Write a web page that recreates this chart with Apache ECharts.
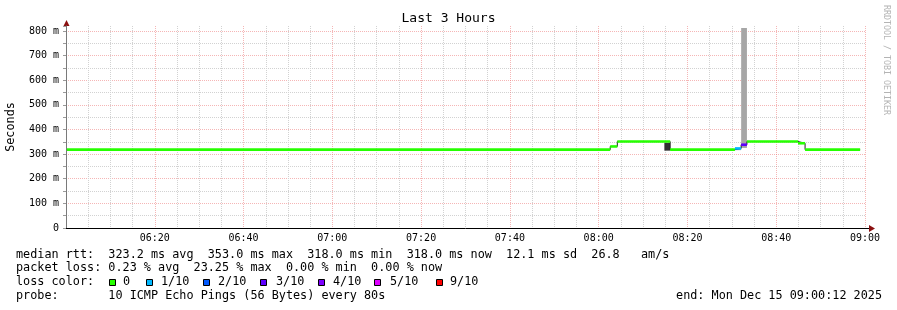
<!DOCTYPE html>
<html><head><meta charset="utf-8">
<script src="https://cdn.jsdelivr.net/npm/echarts@6/dist/echarts.min.js"></script>
<style>html,body{margin:0;padding:0;background:#fff}#c{width:897px;height:310px}</style>
</head><body><div id="c"></div>
<script>
// ---- data (minutes since 06:00) ----
const chartTitle = 'Last 3 Hours';
const yAxisName = 'Seconds';
const watermark = 'RRDTOOL / TOBI OETIKER';
const xTickLabels = ['06:20','06:40','07:00','07:20','07:40','08:00','08:20','08:40','09:00'];
const yTickLabels = ['0','100 m','200 m','300 m','400 m','500 m','600 m','700 m','800 m'];
// median rtt step segments: boundaries, value (ms), lost pings (of 10)
const segBounds = [0.2, 122.6, 124.2, 136.1, 150.7, 152.1, 153.4, 164.9, 166.5, 178.9];
const segMedian = [318, 331, 351, 318, 323, 338, 351, 344, 318];
const segLoss   = [0, 0, 0, 0, 1, 3, 0, 0, 0];
// smoke (ping spread) blocks
const smokeStart = [134.8, 150.7, 152.1];
const smokeEnd   = [136.1, 152.1, 153.4];
const smokeLow   = [314, 316, 325];
const smokeHigh  = [346, 322, 812];
const smokeShade = ['#303030', '#a8a8a8', '#a6a6a6'];
// legend
const lossColors = ['#26ff00','#00b8ff','#0059ff','#5e00ff','#7e00ff','#dd00ff','#ff0000'];
const lossLabels = ['0','1/10','2/10','3/10','4/10','5/10','9/10'];
const legendLine1 = 'median rtt:  323.2 ms avg  353.0 ms max  318.0 ms min  318.0 ms now  12.1 ms sd  26.8   am/s';
const legendLine2 = 'packet loss: 0.23 % avg  23.25 % max  0.00 % min  0.00 % now';
const legendLine3 = 'loss color:';
const legendLine4 = 'probe:       10 ICMP Echo Pings (56 Bytes) every 80s';
const endText = 'end: Mon Dec 15 09:00:12 2025';

// ---- build ----
const MONO = '"DejaVu Sans Mono", monospace';
const lossIndex = l => (l <= 5 ? l : 6);

const bandData = segMedian.map((m, i) => [segBounds[i], segBounds[i + 1], m, m, segLoss[i]]);
const medianLine = segMedian.map((m, i) => [segBounds[i], m]);
medianLine.push([segBounds[segBounds.length - 1], segMedian[segMedian.length - 1]]);
const smokeData = smokeStart.map((s, i) => [s, smokeEnd[i], smokeLow[i], smokeHigh[i], i]);

const chart = echarts.init(document.getElementById('c'), null, {renderer: 'canvas'});

const lineY = [254.5, 268.3, 282.3, 296];
const sqX = [109, 146, 203, 260, 318, 374, 436];
const lblX = [123, 161, 218, 276, 333, 390, 450];
const graphics = [];
const addText = (x, y, t, align) => graphics.push({type: 'text', x: x, y: y,
  style: {text: t, fill: '#000', font: '11.8px ' + MONO, textAlign: align || 'left', textVerticalAlign: 'middle'}, silent: true});
addText(16, lineY[0], legendLine1);
addText(16, lineY[1], legendLine2);
addText(16, lineY[2], legendLine3);
addText(16, lineY[3], legendLine4);
addText(882, lineY[3], endText, 'right');
lossColors.forEach((c, i) => {
  graphics.push({type: 'rect', shape: {x: sqX[i] + 0.5, y: 279.5, width: 6, height: 6},
    style: {fill: c, stroke: '#000', lineWidth: 1}, silent: true});
  addText(lblX[i], lineY[2], lossLabels[i]);
});
graphics.push({type: 'text', x: 886, y: 60, rotation: -Math.PI / 2,
  style: {text: watermark, fill: '#b4b4b4', font: '8.3px ' + MONO, textAlign: 'center', textVerticalAlign: 'middle'}, silent: true});
// axis arrows
graphics.push({type: 'line', shape: {x1: 865, y1: 228.5, x2: 870, y2: 228.5}, style: {stroke: '#000', lineWidth: 1}, silent: true});
graphics.push({type: 'polygon', shape: {points: [[869, 225], [875, 228.5], [869, 232]]}, style: {fill: '#8b1010'}, silent: true});
graphics.push({type: 'polygon', shape: {points: [[63.5, 26], [66.5, 20], [69.5, 26]]}, style: {fill: '#8b1010'}, silent: true});

const MAJOR = 'rgba(235,110,110,0.5)';
const MINOR = '#d2d2d2';
const option = {
  animation: false,
  backgroundColor: '#fff',
  title: {text: chartTitle, left: 'center', top: 12, padding: 0,
    textStyle: {fontFamily: MONO, fontSize: 13, fontWeight: 'normal', color: '#000'}},
  grid: {left: 66, right: 32, top: 26, bottom: 82, containLabel: false, outerBoundsMode: 'none'},
  xAxis: {
    type: 'value', min: 0, max: 180, interval: 20,
    axisLine: {show: true, lineStyle: {color: '#000', width: 1}},
    axisTick: {show: false},
    axisLabel: {show: true, showMaxLabel: true, showMinLabel: false, margin: 5,
      fontFamily: MONO, fontSize: 10, color: '#000',
      formatter: v => (v > 0 ? xTickLabels[Math.round(v / 20) - 1] || '' : '')},
    splitLine: {show: true, showMinLine: false, showMaxLine: true,
      lineStyle: {color: MAJOR, width: 1, type: [1, 1]}},
    minorTick: {show: false, splitNumber: 4},
    minorSplitLine: {show: true, lineStyle: {color: MINOR, width: 1, type: [1, 1]}}
  },
  yAxis: {
    type: 'value', min: 0, max: 820, interval: 50,
    name: yAxisName, nameLocation: 'middle', nameGap: 49, nameRotate: 90,
    nameTextStyle: {fontFamily: MONO, fontSize: 11.8, color: '#000'},
    axisLine: {show: true, lineStyle: {color: '#7a7a7a', width: 1}},
    axisTick: {show: true, length: 3, lineStyle: {color: '#9a9a9a'}},
    axisLabel: {show: true, margin: 7, fontFamily: MONO, fontSize: 10, color: '#000',
      formatter: v => (v % 100 === 0 ? (yTickLabels[v / 100] || '') : '')},
    splitLine: {show: true, showMinLine: false, showMaxLine: false,
      lineStyle: {color: [MINOR, MAJOR], width: 1, type: [1, 1]}}
  },
  series: [
    {
      type: 'custom', name: 'smoke', data: smokeData, encode: {x: [0, 1], y: [2, 3]},
      renderItem: (params, api) => {
        const p0 = api.coord([api.value(0), api.value(3)]);
        const p1 = api.coord([api.value(1), api.value(2)]);
        return {type: 'rect', shape: {x: p0[0], y: p0[1], width: p1[0] - p0[0], height: p1[1] - p0[1]},
          style: {fill: smokeShade[api.value(4)]}};
      }
    },
    {
      type: 'line', name: 'median', data: medianLine, step: 'end', symbol: 'none',
      lineStyle: {color: '#202020', width: 1}, z: 3
    },
    {
      type: 'custom', name: 'loss', data: bandData, encode: {x: [0, 1], y: [2, 3]}, z: 4,
      renderItem: (params, api) => {
        const p0 = api.coord([api.value(0), api.value(2)]);
        const p1 = api.coord([api.value(1), api.value(2)]);
        return {type: 'rect', shape: {x: p0[0], y: p0[1] - 1.3, width: p1[0] - p0[0], height: 2.6},
          style: {fill: lossColors[lossIndex(api.value(4))]}};
      }
    }
  ],
  graphic: graphics
};
chart.setOption(option);
</script>
</body></html>
